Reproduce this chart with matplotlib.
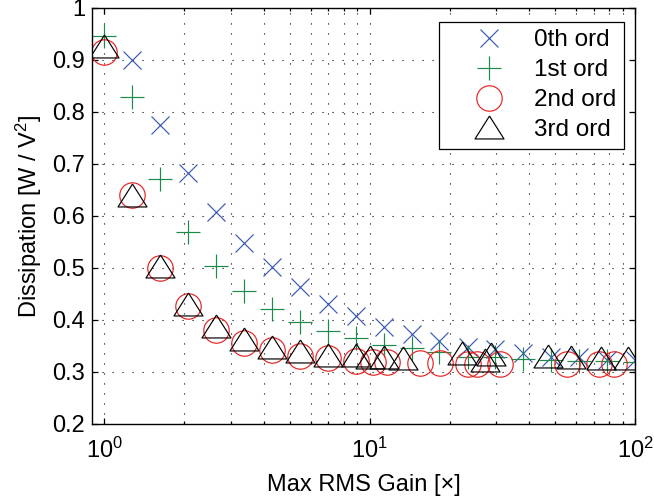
import numpy as np
import matplotlib
matplotlib.use("Agg")
import matplotlib.pyplot as plt
from matplotlib.ticker import FixedLocator, FixedFormatter, NullFormatter

plt.rcParams['font.family'] = ['Liberation Sans', 'DejaVu Sans']
plt.rcParams['mathtext.fontset'] = 'custom'
plt.rcParams['mathtext.rm'] = 'Liberation Sans'
plt.rcParams['mathtext.it'] = 'Liberation Sans:italic'

# gain sweep
gain = [1.0, 1.27, 1.62, 2.07, 2.64, 3.36, 4.28, 5.46, 6.95, 8.86,
        11.3, 14.4, 18.3, 23.4, 29.8, 37.9, 48.3, 61.6, 78.5, 100.0]

# 0th order has no visible point at gain 1
ord0_x = gain[1:]
ord0_y = [0.900, 0.775, 0.682, 0.607, 0.548, 0.501, 0.463, 0.431, 0.408, 0.387,
          0.373, 0.360, 0.349, 0.344, 0.336, 0.329, 0.328, 0.323, 0.323]

ord1_x = gain
ord1_y = [0.946, 0.829, 0.671, 0.570, 0.504, 0.456, 0.422, 0.397, 0.378, 0.365,
          0.352, 0.346, 0.338, 0.329, 0.329, 0.325, 0.324, 0.322, 0.322, 0.320]

ord2_x = [1.0, 1.27, 1.62, 2.07, 2.64, 3.36, 4.28, 5.46, 6.95, 8.86,
          10.3, 11.6, 15.5, 18.4, 23.5, 25.3, 30.9, 55.3, 73.2, 83.4]
ord2_y = [0.916, 0.640, 0.499, 0.426, 0.381, 0.356, 0.342, 0.331, 0.326, 0.322,
          0.320, 0.319, 0.317, 0.317, 0.316, 0.316, 0.316, 0.316, 0.315, 0.316]

ord3_x = [1.0, 1.27, 1.62, 2.07, 2.64, 3.36, 4.28, 5.46, 6.95, 8.86,
          10.05, 11.3, 13.4, 22.3, 27.1, 28.7, 46.9, 57.4, 74.3, 94.1]
ord3_y = [0.926, 0.640, 0.503, 0.431, 0.389, 0.364, 0.349, 0.341, 0.333, 0.332,
          0.328, 0.328, 0.326, 0.336, 0.323, 0.334, 0.330, 0.329, 0.327, 0.327]

labels = ["0th ord", "1st ord", "2nd ord", "3rd ord"]
xticks = [1, 10, 100]
xticklabels = [r"$10^0$", r"$10^1$", r"$10^2$"]
yticks = [0.2, 0.3, 0.4, 0.5, 0.6, 0.7, 0.8, 0.9, 1.0]
yticklabels = ["0.2", "0.3", "0.4", "0.5", "0.6", "0.7", "0.8", "0.9", "1"]

# wide, flat triangle like the original
tri = [(0, 0.79), (-1, -0.79), (1, -0.79), (0, 0.79)]

fig = plt.figure(figsize=(6.54, 4.97), dpi=100)
ax = fig.add_axes([0.1407, 0.1469, 0.8303, 0.8371])

mew = 0.85
ax.plot(ord0_x, ord0_y, ls="none", marker="x", ms=12.7, mew=mew, color="#3a58b8", label=labels[0])
ax.plot(ord1_x, ord1_y, ls="none", marker="+", ms=17.3, mew=mew, color="#1c8a48", label=labels[1])
ax.plot(ord2_x, ord2_y, ls="none", marker="o", ms=18.3, mew=mew, mfc="none", mec="#e82222", label=labels[2])
ax.plot(ord3_x, ord3_y, ls="none", marker=tri, ms=20.9, mew=mew, mfc="none", mec="black", label=labels[3])

ax.set_xscale("log")
ax.set_xlim(0.9, 100)
ax.set_ylim(0.2, 1.0)

ax.xaxis.set_major_locator(FixedLocator(xticks))
ax.xaxis.set_major_formatter(FixedFormatter(xticklabels))
minor = [m * d for d in (1, 10) for m in range(2, 10)]
ax.xaxis.set_minor_locator(FixedLocator(minor))
ax.xaxis.set_minor_formatter(NullFormatter())
ax.yaxis.set_major_locator(FixedLocator(yticks))
ax.yaxis.set_major_formatter(FixedFormatter(yticklabels))

ax.tick_params(which="both", direction="in", top=True, right=True, labelsize=17, width=0.9)
ax.tick_params(which="major", length=4)
ax.tick_params(which="minor", length=2)
ax.tick_params(axis="x", pad=10)
ax.tick_params(axis="y", pad=5)

grid_style = dict(color="black", linestyle=(0, (1, 8)), linewidth=0.8)
ax.grid(True, which="major", **grid_style)
ax.grid(True, which="minor", axis="x", **grid_style)

for sp in ax.spines.values():
    sp.set_linewidth(1.0)

ax.set_xlabel("Max RMS Gain [\u00d7]", fontsize=17, labelpad=8)
ax.set_ylabel("Dissipation [W / V$^2$]", fontsize=17, labelpad=6)

leg = ax.legend(loc="upper right", bbox_to_anchor=(0.98, 0.967), fontsize=17.5,
                fancybox=False, framealpha=1, edgecolor="black",
                handlelength=3.45, handletextpad=0.15, labelspacing=0.32,
                borderpad=0.32, borderaxespad=0)
leg.get_frame().set_linewidth(0.9)

fig.savefig("out.png", dpi=100)
